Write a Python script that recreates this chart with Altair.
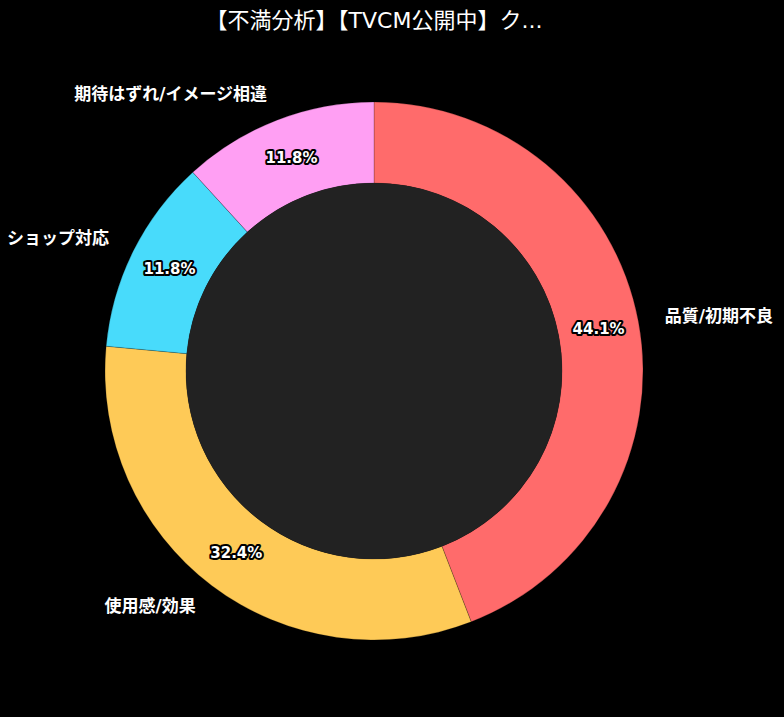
import math
import altair as alt
import pandas as pd

# Complaint categories and their counts (clockwise from 12 o'clock)
categories = ["品質/初期不良", "使用感/効果", "ショップ対応", "期待はずれ/イメージ相違"]
counts = [15, 11, 4, 4]
colors = ["#FF6B6B", "#FECA57", "#48DBFB", "#FF9FF3"]
label_side = ["left", "right", "right", "right"]

total = sum(counts)
df = pd.DataFrame({
    "category": categories,
    "count": counts,
    "order": list(range(len(categories))),
    "side": label_side,
})

OUTER = 269
INNER = 188
FONT = "DejaVu Sans, Noto Sans CJK JP"

theta_scale = alt.Scale(domain=[0, total], range=[0, 2 * math.pi])
color_scale = alt.Scale(domain=categories, range=colors)

base = alt.Chart(df).transform_window(
    cum="sum(count)", sort=[alt.SortField("order")]
).transform_calculate(
    start="datum.cum - datum.count",
    mid="datum.cum - datum.count / 2",
    pct="format(datum.count / %d * 100, '.1f') + '%%'" % total,
)

ring = base.mark_arc(
    radius=OUTER, innerRadius=INNER, stroke="#000000", strokeWidth=0.6, strokeOpacity=0.35
).encode(
    theta=alt.Theta("start:Q", scale=theta_scale),
    theta2="cum:Q",
    color=alt.Color("category:N", scale=color_scale, legend=None),
)

hole = alt.Chart(pd.DataFrame({"v": [total]})).mark_arc(
    radius=INNER, color="#222222"
).encode(
    theta=alt.Theta("v:Q", scale=theta_scale),
)

pct_halo = base.mark_text(
    radius=(OUTER + INNER) / 2, font=FONT, fontSize=15, fontWeight="bold",
    color="#000000", stroke="#000000", strokeWidth=4, strokeJoin="round",
).encode(
    theta=alt.Theta("mid:Q", scale=theta_scale),
    text="pct:N",
)

pct_text = base.mark_text(
    radius=(OUTER + INNER) / 2, font=FONT, fontSize=15, fontWeight="bold", color="#FFFFFF",
).encode(
    theta=alt.Theta("mid:Q", scale=theta_scale),
    text="pct:N",
)

label_r = OUTER * 1.1
labels_left = base.transform_filter("datum.side == 'left'").mark_text(
    radius=label_r, align="left", baseline="middle", font=FONT, fontSize=17,
    fontWeight="bold", color="#FFFFFF",
).encode(
    theta=alt.Theta("mid:Q", scale=theta_scale),
    text="category:N",
)
labels_right = base.transform_filter("datum.side == 'right'").mark_text(
    radius=label_r, align="right", baseline="middle", font=FONT, fontSize=17,
    fontWeight="bold", color="#FFFFFF",
).encode(
    theta=alt.Theta("mid:Q", scale=theta_scale),
    text="category:N",
)

chart = alt.layer(
    ring, hole, pct_halo, pct_text, labels_left, labels_right
).properties(
    width=748,
    height=662,
    background="#000000",
    padding={"left": 0, "top": 40, "right": 36, "bottom": 15},
    autosize=alt.AutoSizeParams(type="none"),
    title=alt.TitleParams(
        "【不満分析】【TVCM公開中】ク...",
        color="#FFFFFF", font=FONT, fontSize=22, fontWeight="normal",
        anchor="middle", offset=7,
    ),
).configure_view(stroke=None)

chart.save("out.html", embed_options={"renderer": "svg", "actions": False})
